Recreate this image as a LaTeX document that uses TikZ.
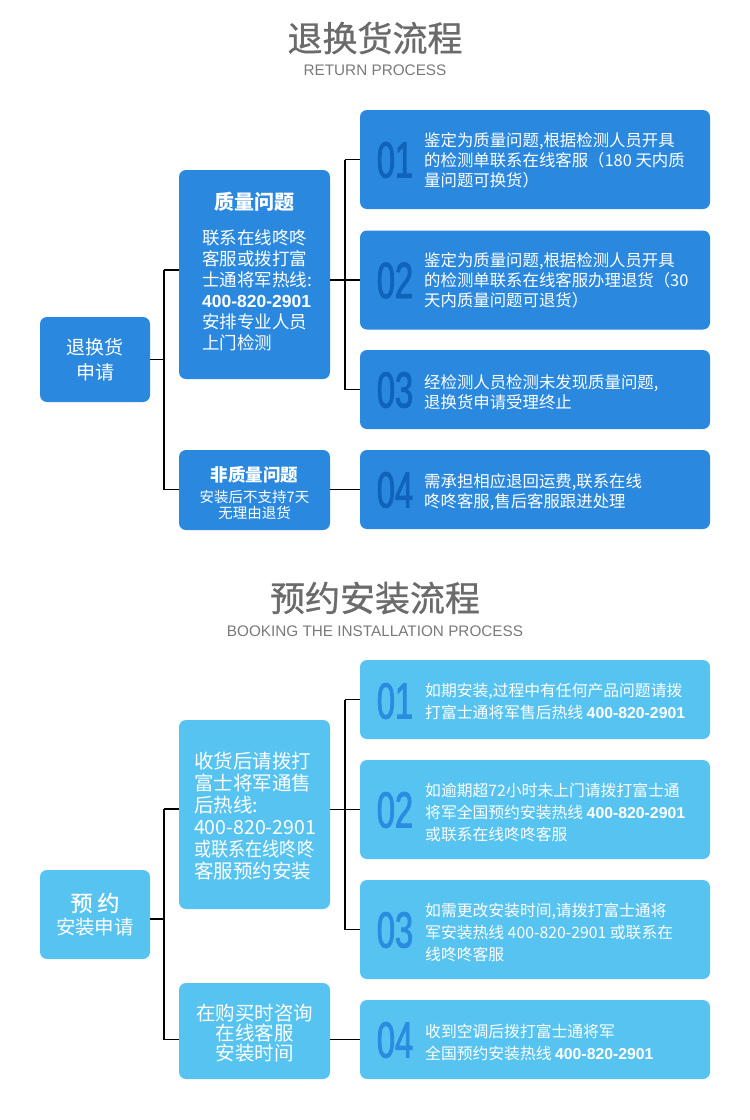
\documentclass[tikz,border=0pt]{standalone}
\usepackage{fontspec}
\setmainfont{Noto Sans CJK SC}
\newfontfamily\numfont[FakeStretch=0.64,FakeBold=1.6]{Liberation Sans}
\newfontfamily\latfont{Liberation Sans}
\newfontfamily\cjkmed[FakeBold=0.8]{Noto Sans CJK SC}
\definecolor{blueA}{HTML}{2A88DE}
\definecolor{blueB}{HTML}{56C3F0}
\definecolor{numA}{HTML}{0F63B9}
\definecolor{numB}{HTML}{2A8CE0}
\definecolor{titlegray}{HTML}{6B6B6B}
\definecolor{subgray}{HTML}{7A7A7A}
\newcommand{\hot}[1]{{\latfont\bfseries #1}}
\tikzset{
  boxA/.style={fill=blueA, rounded corners=7pt, inner sep=0pt},
  boxB/.style={fill=blueB, rounded corners=7pt, inner sep=0pt},
  conn/.style={draw=black, line width=1.2pt},
  ttl/.style={text=titlegray, font=\cjkmed\fontsize{35}{40}\selectfont, inner sep=0pt},
  subttl/.style={text=subgray, font=\latfont\fontsize{15.3}{18}\selectfont, inner sep=0pt},
  numtxt/.style={font=\numfont\fontsize{51}{51}\selectfont, inner sep=0pt},
  wtxt/.style={text=white, inner sep=0pt},
  rtxtA/.style={wtxt, anchor=west, align=left, font=\fontsize{16.4}{20}\selectfont},
  rtxtB/.style={wtxt, anchor=west, align=left, font=\fontsize{15.8}{22}\selectfont},
}
\begin{document}
\begin{tikzpicture}[x=1pt,y=-1pt]
\useasboundingbox (0,0) rectangle (750,1120);
\fill[white] (0,0) rectangle (750,1120);

% ===== Section 1 =====
\node[ttl] (t1) at (375,38) {退换货流程};
\node[subttl] (s1) at (375,70) {RETURN PROCESS};

\node[boxA, minimum width=110pt, minimum height=85pt] (L1) at (95,359.5) {};
\node[wtxt, align=center, font=\fontsize{19}{25}\selectfont] (L1t) at (95,359.5) {退换货\\申请};

\node[boxA, minimum width=151pt, minimum height=209pt] (M1) at (254.5,274.5) {};
\node[wtxt, font=\bfseries\fontsize{20}{24}\selectfont] (M1h) at (254.5,202) {质量问题};
\node[wtxt, align=left, font=\fontsize{17.5}{21}\selectfont] (M1t) at (257,290)
  {联系在线咚咚\\客服或拨打富\\士通将军热线:\\\hot{400-820-2901}\\安排专业人员\\上门检测};

\node[boxA, minimum width=151pt, minimum height=80pt] (N1) at (254.5,490) {};
\node[wtxt, font=\bfseries\fontsize{17.5}{20}\selectfont] (N1h) at (254.5,475) {非质量问题};
\node[wtxt, align=center, font=\fontsize{14.5}{15.5}\selectfont] (N1t) at (254.5,505) {安装后不支持7天\\无理由退货};

\node[boxA, minimum width=350pt, minimum height=99pt] (R1) at (535,159.5) {};
\node[boxA, minimum width=350pt, minimum height=99pt] (R2) at (535,280) {};
\node[boxA, minimum width=350pt, minimum height=79pt] (R3) at (535,389.5) {};
\node[boxA, minimum width=350pt, minimum height=79pt] (R4) at (535,489.5) {};

\node[numtxt, text=numA] (n11) at (395,160) {01};
\node[numtxt, text=numA] (n12) at (395,280.5) {02};
\node[numtxt, text=numA] (n13) at (395,390) {03};
\node[numtxt, text=numA] (n14) at (395,490) {04};

\node[rtxtA] (r11) at (424,160) {鉴定为质量问题,根据检测人员开具\\的检测单联系在线客服（180 天内质\\量问题可换货）};
\node[rtxtA] (r12) at (424,280) {鉴定为质量问题,根据检测人员开具\\的检测单联系在线客服办理退货（30\\天内质量问题可退货）};
\node[rtxtA] (r13) at (424,392) {经检测人员检测未发现质量问题,\\退换货申请受理终止};
\node[rtxtA] (r14) at (424,492) {需承担相应退回运费,联系在线\\咚咚客服,售后客服跟进处理};

\coordinate (J1t) at (164,270);
\coordinate (J1b) at (164,489.5);
\draw[conn] (L1.east) -- (L1.east -| J1t);
\draw[conn] (J1t) -- (J1b);
\draw[conn] (J1t) -- (J1t -| M1.west);
\draw[conn] (J1b) -- (J1b -| N1.west);
\coordinate (K1t) at (345,159.5);
\coordinate (K1m) at (345,280);
\coordinate (K1b) at (345,389.5);
\draw[conn] (K1m -| M1.east) -- (K1m);
\draw[conn] (K1t) -- (K1b);
\draw[conn] (K1t) -- (K1t -| R1.west);
\draw[conn] (K1m) -- (K1m -| R2.west);
\draw[conn] (K1b) -- (K1b -| R3.west);
\draw[conn] (N1.east |- R4.west) -- (R4.west);

% ===== Section 2 =====
\node[ttl] (t2) at (375,598) {预约安装流程};
\node[subttl] (s2) at (375,631) {BOOKING THE INSTALLATION PROCESS};

\node[boxB, minimum width=110pt, minimum height=89pt] (L2) at (95,914.5) {};
\node[wtxt, font=\cjkmed\fontsize{22}{24}\selectfont] (L2h) at (95,903) {预 约};
\node[wtxt, font=\fontsize{19.5}{22}\selectfont] (L2t) at (95,927) {安装申请};

\node[boxB, minimum width=151pt, minimum height=189pt] (M2) at (254.5,814.5) {};
\node[wtxt, align=left, font=\fontsize{19.5}{22}\selectfont] (M2t) at (255,816)
  {收货后请拨打\\富士将军通售\\后热线:\\400-820-2901\\\scalebox{0.88}[1]{或联系在线咚咚}\\客服预约安装};

\node[boxB, minimum width=151pt, minimum height=96pt] (N2) at (254.5,1031) {};
\node[wtxt, align=center, font=\fontsize{19.5}{20}\selectfont] (N2t) at (254.5,1033) {在购买时咨询\\在线客服\\安装时间};

\node[boxB, minimum width=350pt, minimum height=79pt] (R5) at (535,699.5) {};
\node[boxB, minimum width=350pt, minimum height=99pt] (R6) at (535,809.5) {};
\node[boxB, minimum width=350pt, minimum height=99pt] (R7) at (535,929.5) {};
\node[boxB, minimum width=350pt, minimum height=79pt] (R8) at (535,1039.5) {};

\node[numtxt, text=numB] (n21) at (395,701) {01};
\node[numtxt, text=numB] (n22) at (395,810) {02};
\node[numtxt, text=numB] (n23) at (395,930) {03};
\node[numtxt, text=numB] (n24) at (395,1040) {04};

\node[rtxtB] (r21) at (425,702) {如期安装,过程中有任何产品问题请拨\\打富士通将军售后热线 \hot{400-820-2901}};
\node[rtxtB] (r22) at (425,812) {如逾期超72小时未上门请拨打富士通\\将军全国预约安装热线 \hot{400-820-2901}\\或联系在线咚咚客服};
\node[rtxtB] (r23) at (425,932) {如需更改安装时间,请拨打富士通将\\军安装热线 400-820-2901 或联系在\\线咚咚客服};
\node[rtxtB] (r24) at (425,1042) {收到空调后拨打富士通将军\\全国预约安装热线 \hot{400-820-2901}};

\coordinate (J2t) at (164,809);
\coordinate (J2b) at (164,1039.5);
\coordinate (J2m) at (164,919);
\draw[conn] (J2m -| L2.east) -- (J2m);
\draw[conn] (J2t) -- (J2b);
\draw[conn] (J2t) -- (J2t -| M2.west);
\draw[conn] (J2b) -- (J2b -| N2.west);
\coordinate (K2t) at (345,699.5);
\coordinate (K2m) at (345,809.5);
\coordinate (K2b) at (345,929.5);
\draw[conn] (K2m -| M2.east) -- (K2m);
\draw[conn] (K2t) -- (K2b);
\draw[conn] (K2t) -- (K2t -| R5.west);
\draw[conn] (K2m) -- (K2m -| R6.west);
\draw[conn] (K2b) -- (K2b -| R7.west);
\draw[conn] (N2.east |- R8.west) -- (R8.west);
\end{tikzpicture}
\end{document}
